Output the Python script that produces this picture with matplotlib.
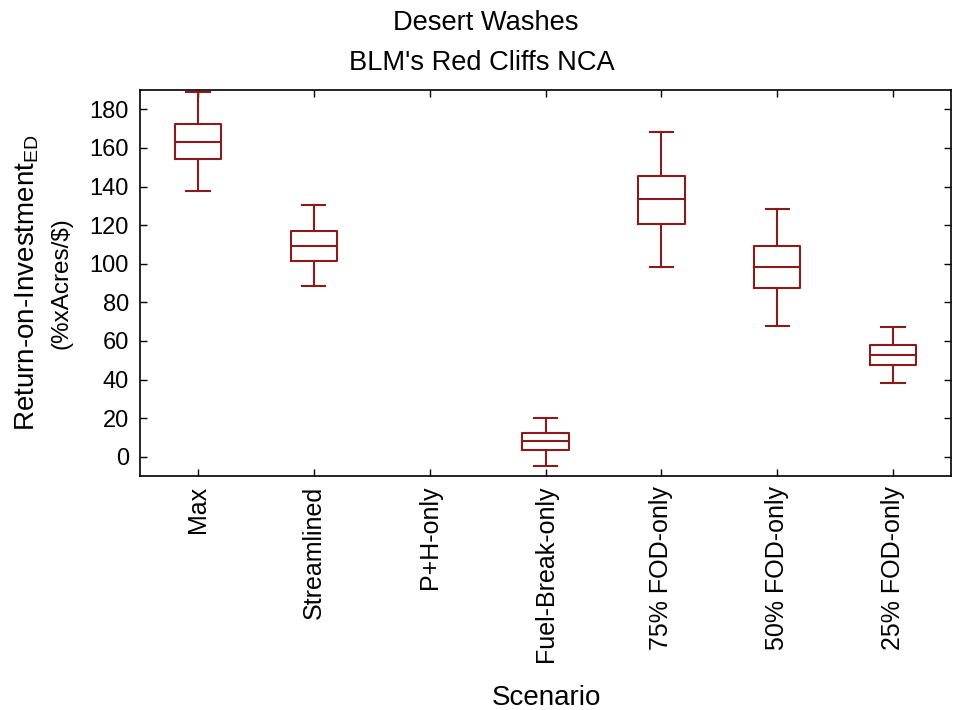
import matplotlib
matplotlib.use("Agg")
import matplotlib.pyplot as plt

plt.rcParams['font.family'] = ['Liberation Sans', 'DejaVu Sans']
plt.rcParams['mathtext.fontset'] = 'custom'
plt.rcParams['mathtext.rm'] = 'Liberation Sans'
plt.rcParams['mathtext.it'] = 'Liberation Sans:italic'

categories = ["Max", "Streamlined", "P+H-only", "Fuel-Break-only",
              "75% FOD-only", "50% FOD-only", "25% FOD-only"]
whislo = [137.8, 88.3, None, -5.0, 98.2, 67.9, 38.2]
q1 = [154.3, 101.6, None, 3.3, 120.4, 87.2, 47.5]
med = [163.3, 109.0, None, 7.9, 133.3, 98.2, 52.7]
q3 = [172.6, 116.8, None, 12.2, 145.5, 109.0, 57.9]
whishi = [189.1, 130.2, None, 20.1, 168.1, 128.5, 67.0]
yticks = [0, 20, 40, 60, 80, 100, 120, 140, 160, 180]

color = '#8b1a1a'

fig = plt.figure(figsize=(9.57, 7.10), dpi=100)
ax = fig.add_axes([140/957, 1-476/710, (951-140)/957, (476-90)/710])

stats, pos = [], []
for i, c in enumerate(categories):
    if med[i] is None:
        continue
    stats.append(dict(label=c, whislo=whislo[i], q1=q1[i], med=med[i],
                      q3=q3[i], whishi=whishi[i], fliers=[]))
    pos.append(i)

lp = dict(color=color, linewidth=1.5)
ax.bxp(stats, positions=pos, widths=0.4, showfliers=False,
       boxprops=lp, whiskerprops=lp, capprops=lp, medianprops=lp,
       capwidths=0.2, manage_ticks=False)

ax.set_xlim(-0.5, len(categories) - 0.5)
ax.set_ylim(-10, 190)
ax.set_xticks(range(len(categories)))
ax.set_xticklabels(categories, rotation=90, fontsize=18)
ax.set_yticks(yticks)
ax.set_yticklabels([str(t) for t in yticks], fontsize=17)
ax.tick_params(direction='in', length=5, width=1, top=True, right=True,
               labeltop=False, labelright=False, pad=8)
ax.tick_params(axis='x', pad=7)
for s in ax.spines.values():
    s.set_linewidth(1.2)

fig.text(546/957, 1-705/710, "Scenario", ha='center', va='baseline', fontsize=20)

ymid = 0.5*(1-476/710 + 1-90/710)
fig.text(27/957, ymid, "Return-on-Investment$_{\\mathrm{ED}}$",
         rotation=90, ha='center', va='center', fontsize=20)
fig.text(62/957, ymid, "(%xAcres/$)",
         rotation=90, ha='center', va='center', fontsize=17.5)

fig.text(486/957, 1-30/710, "Desert Washes", ha='center', va='baseline', fontsize=19.6)
fig.text(482/957, 1-70/710, "BLM's Red Cliffs NCA", ha='center', va='baseline', fontsize=19.6)

fig.savefig("out.png", dpi=100)
